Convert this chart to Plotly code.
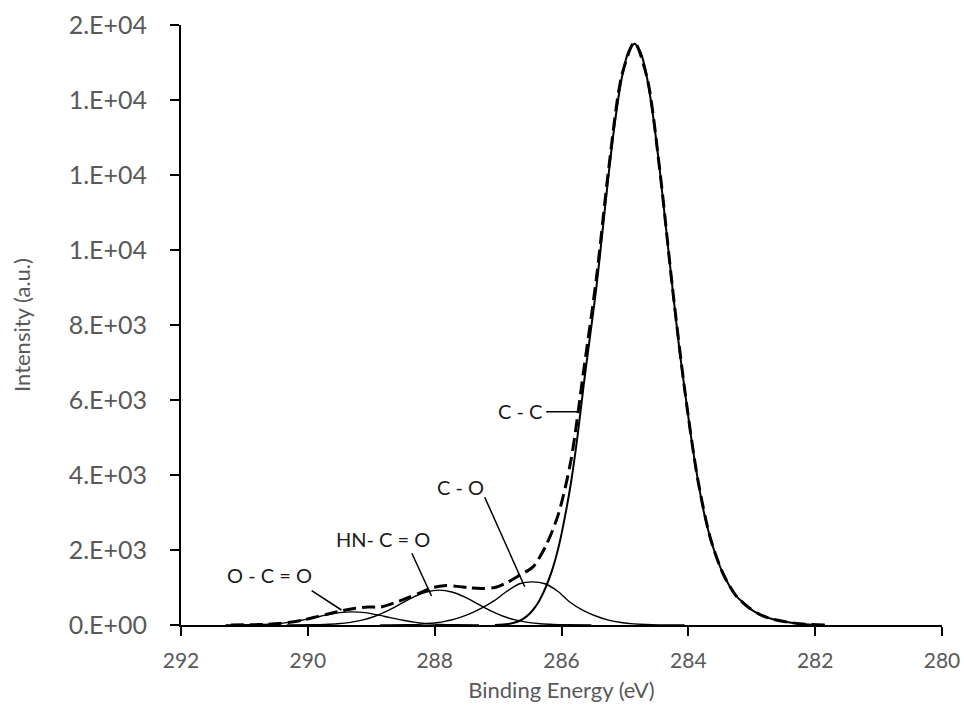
import plotly.graph_objects as go

# ---------------- data ----------------
# C - C component
cc_x = [281.85, 282.05, 282.25, 282.45, 282.65, 282.85, 282.95, 283.05, 283.15, 283.25,
        283.35, 283.45, 283.55, 283.65, 283.75, 283.85, 283.95, 284.05, 284.15, 284.25,
        284.35, 284.45, 284.55, 284.65, 284.75, 284.85, 284.95, 285.05, 285.15, 285.25,
        285.35, 285.45, 285.55, 285.65, 285.75, 285.85, 285.95, 286.05, 286.15, 286.25,
        286.35, 286.45, 286.55, 286.65, 286.75, 286.85, 287.05]
cc_y = [0, 10, 35, 80, 146, 262, 350, 467, 620, 784,
        1040, 1360, 1780, 2300, 2970, 3870, 4940, 6180, 7480, 8990,
        10550, 12120, 13500, 14580, 15260, 15500, 15260, 14580, 13500, 12120,
        10550, 9000, 7700, 6400, 5000, 3800, 2850, 2050, 1450, 1000,
        650, 400, 230, 120, 60, 25, 0]

# C - O component
co_x = [284.06, 284.46, 284.66, 284.86, 285.06, 285.26, 285.46, 285.66, 285.86, 286.06,
        286.26, 286.46, 286.66, 286.86, 287.06, 287.26, 287.46, 287.66, 287.86, 288.06,
        288.26, 288.46, 288.86]
co_y = [0, 4, 12, 30, 65, 130, 240, 390, 600, 900,
        1100, 1150, 1100, 900, 650, 450, 290, 170, 90, 45,
        18, 6, 0]

# HN - C = O component
hn_x = [285.53, 285.93, 286.13, 286.33, 286.53, 286.73, 286.93, 287.13, 287.33, 287.53,
        287.73, 287.93, 288.13, 288.33, 288.53, 288.73, 288.93, 289.13, 289.33, 289.53,
        289.73, 289.93, 290.33]
hn_y = [0, 5, 14, 32, 70, 135, 240, 390, 570, 750,
        880, 930, 880, 750, 570, 390, 240, 135, 70, 32,
        14, 5, 0]

# O - C = O component
oc_x = [287.3, 287.7, 287.9, 288.1, 288.3, 288.5, 288.7, 288.9, 289.1, 289.3,
        289.5, 289.7, 289.9, 290.1, 290.3, 290.5, 290.7, 290.9, 291.3]
oc_y = [0, 6, 15, 35, 70, 125, 195, 270, 330, 350,
        330, 270, 195, 125, 70, 35, 15, 6, 0]

# envelope (dashed)
env_x = [281.85, 282.25, 282.65, 282.85, 283.05, 283.25, 283.45, 283.65, 283.85, 284.05,
         284.25, 284.45, 284.65, 284.85, 285.05, 285.25, 285.45, 285.65, 285.85, 286.05,
         286.25, 286.45, 286.65, 286.85, 287.05, 287.25, 287.45, 287.65, 287.85, 288.05,
         288.25, 288.45, 288.65, 288.85, 289.05, 289.25, 289.45, 289.65, 289.85, 290.05,
         290.25, 290.45, 290.65, 290.85, 291.25]
env_y = [0, 35, 146, 262, 467, 784, 1360, 2300, 3870, 6180,
         8990, 12125, 14590, 15530, 14650, 12250, 9240, 6790, 4400, 2950,
         2100, 1550, 1340, 1140, 1000, 975, 990, 1030, 1050, 990,
         840, 710, 580, 480, 480, 445, 385, 305, 223, 143,
         80, 40, 18, 7, 0]

x_ticks = [292, 290, 288, 286, 284, 282, 280]
y_ticks = [0, 2000, 4000, 6000, 8000, 10000, 12000, 14000, 16000]
y_ticktext = ["0.E+00", "2.E+03", "4.E+03", "6.E+03", "8.E+03",
              "1.E+04", "1.E+04", "1.E+04", "2.E+04"]

labels = ["C - C", "C - O", "HN- C = O", "O - C = O"]
# label anchor (x, y) and leader line (x0, y0, x1, y1) in data units
label_pos = [(286.27, 5700), (287.60, 3690), (288.81, 2285), (290.60, 1333)]
leaders = [(286.24, 5690, 285.73, 5690),
           (287.21, 3405, 286.58, 1021),
           (288.36, 1912, 288.05, 773),
           (289.94, 915, 289.47, 400)]
label_anchor = ["right", "center", "center", "center"]

# ---------------- figure ----------------
FONT = "Lato, 'Open Sans', sans-serif"
fig = go.Figure()

comp_style = dict(color="black", width=1.4)
fig.add_trace(go.Scatter(x=oc_x, y=oc_y, mode="lines", line=dict(shape="spline", smoothing=0.8, **comp_style)))
fig.add_trace(go.Scatter(x=hn_x, y=hn_y, mode="lines", line=dict(shape="spline", smoothing=0.8, **comp_style)))
fig.add_trace(go.Scatter(x=co_x, y=co_y, mode="lines", line=dict(shape="spline", smoothing=0.8, **comp_style)))
fig.add_trace(go.Scatter(x=cc_x, y=cc_y, mode="lines",
                         line=dict(shape="spline", smoothing=0.8, color="black", width=2)))
fig.add_trace(go.Scatter(x=env_x, y=env_y, mode="lines",
                         line=dict(shape="spline", smoothing=0.8, color="black", width=3,
                                   dash="13px,6px")))

for (t, (lx, ly), anc) in zip(labels, label_pos, label_anchor):
    fig.add_annotation(x=lx, y=ly, text=t, showarrow=False, xanchor=anc, yanchor="middle",
                       font=dict(family=FONT, size=20, color="#1a1a1a"))
for (x0, y0, x1, y1) in leaders:
    fig.add_shape(type="line", x0=x0, y0=y0, x1=x1, y1=y1, xref="x", yref="y",
                  line=dict(color="black", width=1.5))

fig.update_layout(
    width=964, height=712,
    margin=dict(l=181, r=22, t=25, b=87),
    paper_bgcolor="white", plot_bgcolor="white",
    showlegend=False,
    font=dict(family=FONT, color="#595959"),
)
fig.update_xaxes(
    range=[292, 280], tickvals=x_ticks, ticktext=[str(v) for v in x_ticks],
    showline=True, linecolor="black", linewidth=2,
    ticks="outside", ticklen=9, tickwidth=2, tickcolor="black",
    showgrid=False, zeroline=False, automargin=False,
    tickfont=dict(family=FONT, size=21, color="#595959"),
    ticklabelstandoff=7,
    title=dict(text="Binding Energy (eV)", font=dict(family=FONT, size=22, color="#595959"), standoff=11),
)
fig.update_yaxes(
    range=[0, 16000], tickvals=y_ticks, ticktext=y_ticktext,
    showline=True, linecolor="black", linewidth=2,
    ticks="outside", ticklen=9, tickwidth=2, tickcolor="black",
    showgrid=False, zeroline=False, automargin=False,
    tickfont=dict(family=FONT, size=25, color="#595959"),
    ticklabelstandoff=18,
    title=dict(text="Intensity (a.u.)", font=dict(family=FONT, size=22, color="#595959"), standoff=32),
)

# remove the browser's default 8px page margin so the figure sits at the page corner
fig.write_html("out.html", default_width="964px", default_height="712px",
               config={"displayModeBar": False, "staticPlot": True},
               post_script="document.body.style.margin='0';")
